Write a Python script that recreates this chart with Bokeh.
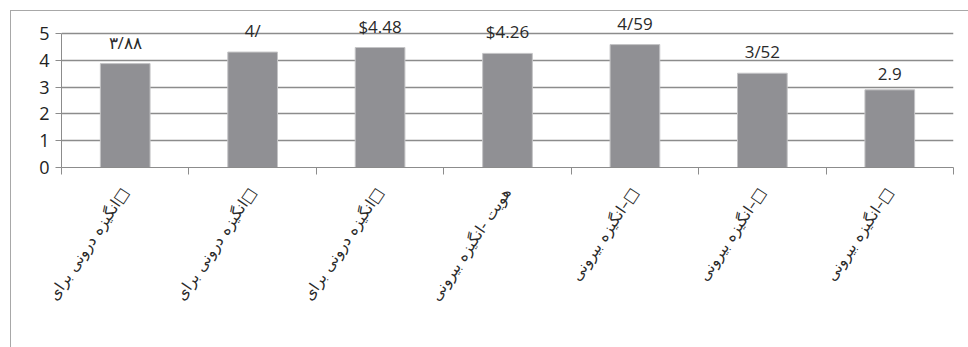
from bokeh.plotting import figure
from bokeh.models import ColumnDataSource, FixedTicker, Range1d
from bokeh.core.properties import value
from bokeh.embed import file_html
from bokeh.resources import INLINE

categories = [
    "انگیزه درونی برای□",
    "انگیزه درونی برای□",
    "انگیزه درونی برای□",
    "هویت -انگیزه بیرونی",
    "انگیزه بیرونی–□",
    "انگیزه بیرونی–□",
    "انگیزه بیرونی–□",
]
values = [3.88, 4.31, 4.48, 4.26, 4.59, 3.52, 2.9]
value_labels = ["۳/۸۸", "4/", "$4.48", "$4.26", "4/59", "3/52", "2.9"]
y_ticks = [0, 1, 2, 3, 4, 5]

n = len(values)
centers = [i + 0.5 for i in range(n)]
src = ColumnDataSource(dict(x=centers, top=values, lab=value_labels))

p = figure(frame_width=892, frame_height=154, output_backend="svg", toolbar_location=None,
           x_range=Range1d(0, n), y_range=Range1d(0, 5.75),
           min_border_left=50, min_border_right=15, min_border_top=2,
           min_border_bottom=180)
p.margin = (10, 0, 0, 10)
p.styles = {"border-top": "1px solid #a8a8a8", "border-left": "1px solid #a8a8a8"}
p.outline_line_color = None
p.background_fill_color = "white"
p.border_fill_color = "white"

p.vbar(x="x", top="top", width=0.39, bottom=0, source=src,
       fill_color="#909094", line_color="#c4c4c6", line_width=1)

p.text(x="x", y="top", text="lab", source=src, y_offset=-10,
       text_align="center", text_baseline="bottom",
       text_font=value("Open Sans"), text_font_size="17px", text_color="#2a2a2a")

# grid
p.xgrid.grid_line_color = None
p.ygrid.ticker = FixedTicker(ticks=y_ticks)
p.ygrid.grid_line_color = "#8c8c8c"
p.ygrid.grid_line_width = 1.3

# y axis
p.yaxis.ticker = FixedTicker(ticks=y_ticks)
p.yaxis.bounds = (0, 5)
p.yaxis.axis_line_color = "#8c8c8c"
p.yaxis.major_tick_line_color = "#8c8c8c"
p.yaxis.major_tick_out = 6
p.yaxis.major_tick_in = 0
p.yaxis.minor_tick_line_color = None
p.yaxis.major_label_text_font = "Open Sans"
p.yaxis.major_label_text_font_size = "18px"
p.yaxis.major_label_text_color = "#222222"
p.yaxis.major_label_standoff = 6

# x axis: labels at centers, ticks at boundaries
p.xaxis.ticker = FixedTicker(ticks=centers, minor_ticks=list(range(n + 1)))
p.xaxis.major_label_overrides = {c: categories[i] for i, c in enumerate(centers)}
p.xaxis.major_tick_line_color = None
p.xaxis.major_tick_out = 0
p.xaxis.minor_tick_line_color = "#8c8c8c"
p.xaxis.minor_tick_out = 7
p.xaxis.minor_tick_in = 0
p.xaxis.axis_line_color = "#8c8c8c"
p.xaxis.major_label_orientation = 0.98
p.xaxis.major_label_text_font = "DejaVu Sans"
p.xaxis.major_label_text_font_size = "15.5px"
p.xaxis.major_label_text_color = "#2a2a2a"
p.xaxis.major_label_standoff = 15

open("out.html", "w").write(file_html(p, INLINE))
